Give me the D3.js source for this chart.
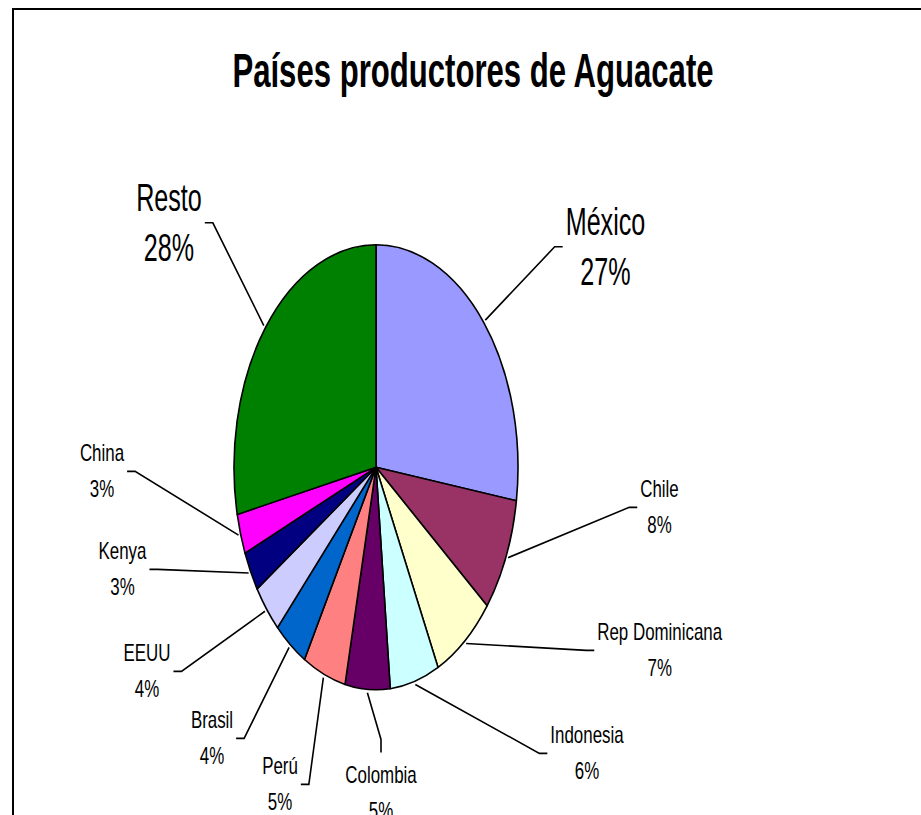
<!DOCTYPE html>
<html>
<head>
<meta charset="utf-8">
<script src="https://cdn.jsdelivr.net/npm/d3@7"></script>
<style>
  body { margin: 0; background: #fff; }
  text { font-family: "Liberation Sans", Arial, sans-serif; fill: #000; }
</style>
</head>
<body>
<div id="chart"></div>
<script>
// data (share of production, %)
const countries = ["México", "Chile", "Rep Dominicana", "Indonesia", "Colombia", "Perú",
                   "Brasil", "EEUU", "Kenya", "China", "Resto"];
const shares = [27.4, 8.3, 7.1, 5.6, 5.1, 4.9, 3.8, 3.6, 2.9, 2.9, 28.4];
const sliceColors = ["#9999FF", "#993366", "#FFFFCC", "#CCFFFF", "#660066", "#FF8080",
                     "#0066CC", "#CCCCFF", "#000080", "#FF00FF", "#008000"];
const title = "Países productores de Aguacate";

const width = 921;
const height = 815;

// pie is an ellipse (chart was stretched vertically)
const cx = 376, cy = 467.3, rx = 142, ry = 222.5;

// label placement (first baseline, text centre) relative to pie centre
const labelOffsets = [
  [229.5, -232], [283.5, 30], [283.7, 173], [211, 276], [5, 316], [-96, 307],
  [-164, 261], [-229, 194], [-253.5, 92], [-274, -6], [-207, -256]
];
const bigLabels = new Set(["México", "Resto"]);

const data = countries.map((c, i) => ({ name: c, value: shares[i] }));
const total = d3.sum(shares);

const svg = d3.select("#chart")
  .append("svg")
  .attr("width", width)
  .attr("height", height);

svg.append("rect")
  .attr("width", width)
  .attr("height", height)
  .attr("fill", "#fff");

// chart area border (runs off the right and bottom edges)
svg.append("rect")
  .attr("x", 13)
  .attr("y", 9)
  .attr("width", width + 20)
  .attr("height", height + 20)
  .attr("fill", "none")
  .attr("stroke", "#000")
  .attr("stroke-width", 2);

svg.append("text")
  .attr("transform", `translate(473, 87) scale(0.635, 1)`)
  .attr("text-anchor", "middle")
  .attr("font-size", 49)
  .attr("font-weight", "bold")
  .text(title);

const color = d3.scaleOrdinal()
  .domain(countries)
  .range(sliceColors);

const pie = d3.pie()
  .sort(null)
  .value(d => d.value);

const arcs = pie(data);

const arc = d3.arc()
  .innerRadius(0)
  .outerRadius(ry);

const pieG = svg.append("g")
  .attr("transform", `translate(${cx}, ${cy}) scale(${rx / ry}, 1)`);

pieG.selectAll("path")
  .data(arcs)
  .join("path")
  .attr("d", arc)
  .attr("fill", d => color(d.data.name))
  .attr("stroke", "#000")
  .attr("stroke-width", 1.6)
  .attr("stroke-linejoin", "round")
  .attr("vector-effect", "non-scaling-stroke");

const edgePoint = (a, k) => [cx + rx * k * Math.sin(a), cy - ry * k * Math.cos(a)];

arcs.forEach((d, i) => {
  const big = bigLabels.has(d.data.name);
  const fs = big ? 39 : 23;
  const lh = big ? 50 : 36;
  const sx = big ? 0.645 : 0.735;
  const off = labelOffsets[i];
  const lx = cx + off[0];
  const ly = cy + off[1];

  const lg = svg.append("g")
    .attr("transform", `translate(${lx}, ${ly}) scale(${sx}, 1)`);

  const t1 = lg.append("text")
    .attr("text-anchor", "middle")
    .attr("font-size", fs)
    .text(d.data.name);

  const t2 = lg.append("text")
    .attr("y", lh)
    .attr("text-anchor", "middle")
    .attr("font-size", fs)
    .text(Math.round(d.value / total * 100) + "%");

  const hw = Math.max(t1.node().getComputedTextLength(), t2.node().getComputedTextLength()) * sx / 2;
  const top = ly - 0.905 * fs;
  const bottom = ly + lh + 0.212 * fs;
  const midY = (top + bottom) / 2;

  const mid = (d.startAngle + d.endAngle) / 2;
  const start = edgePoint(mid, 1.015);
  let knee, end;
  if (Math.abs(off[0]) < 40) {
    end = [lx, top - 10];
    knee = [lx, top - 23];
  } else if (off[0] > 0) {
    end = [lx - hw - 3, midY];
    knee = [end[0] - 8, midY];
  } else {
    end = [lx + hw + 3, midY];
    knee = [end[0] + 8, midY];
  }

  svg.append("path")
    .attr("d", d3.line()([start, knee, end]))
    .attr("fill", "none")
    .attr("stroke", "#000")
    .attr("stroke-width", 1.6);
});
</script>
</body>
</html>
